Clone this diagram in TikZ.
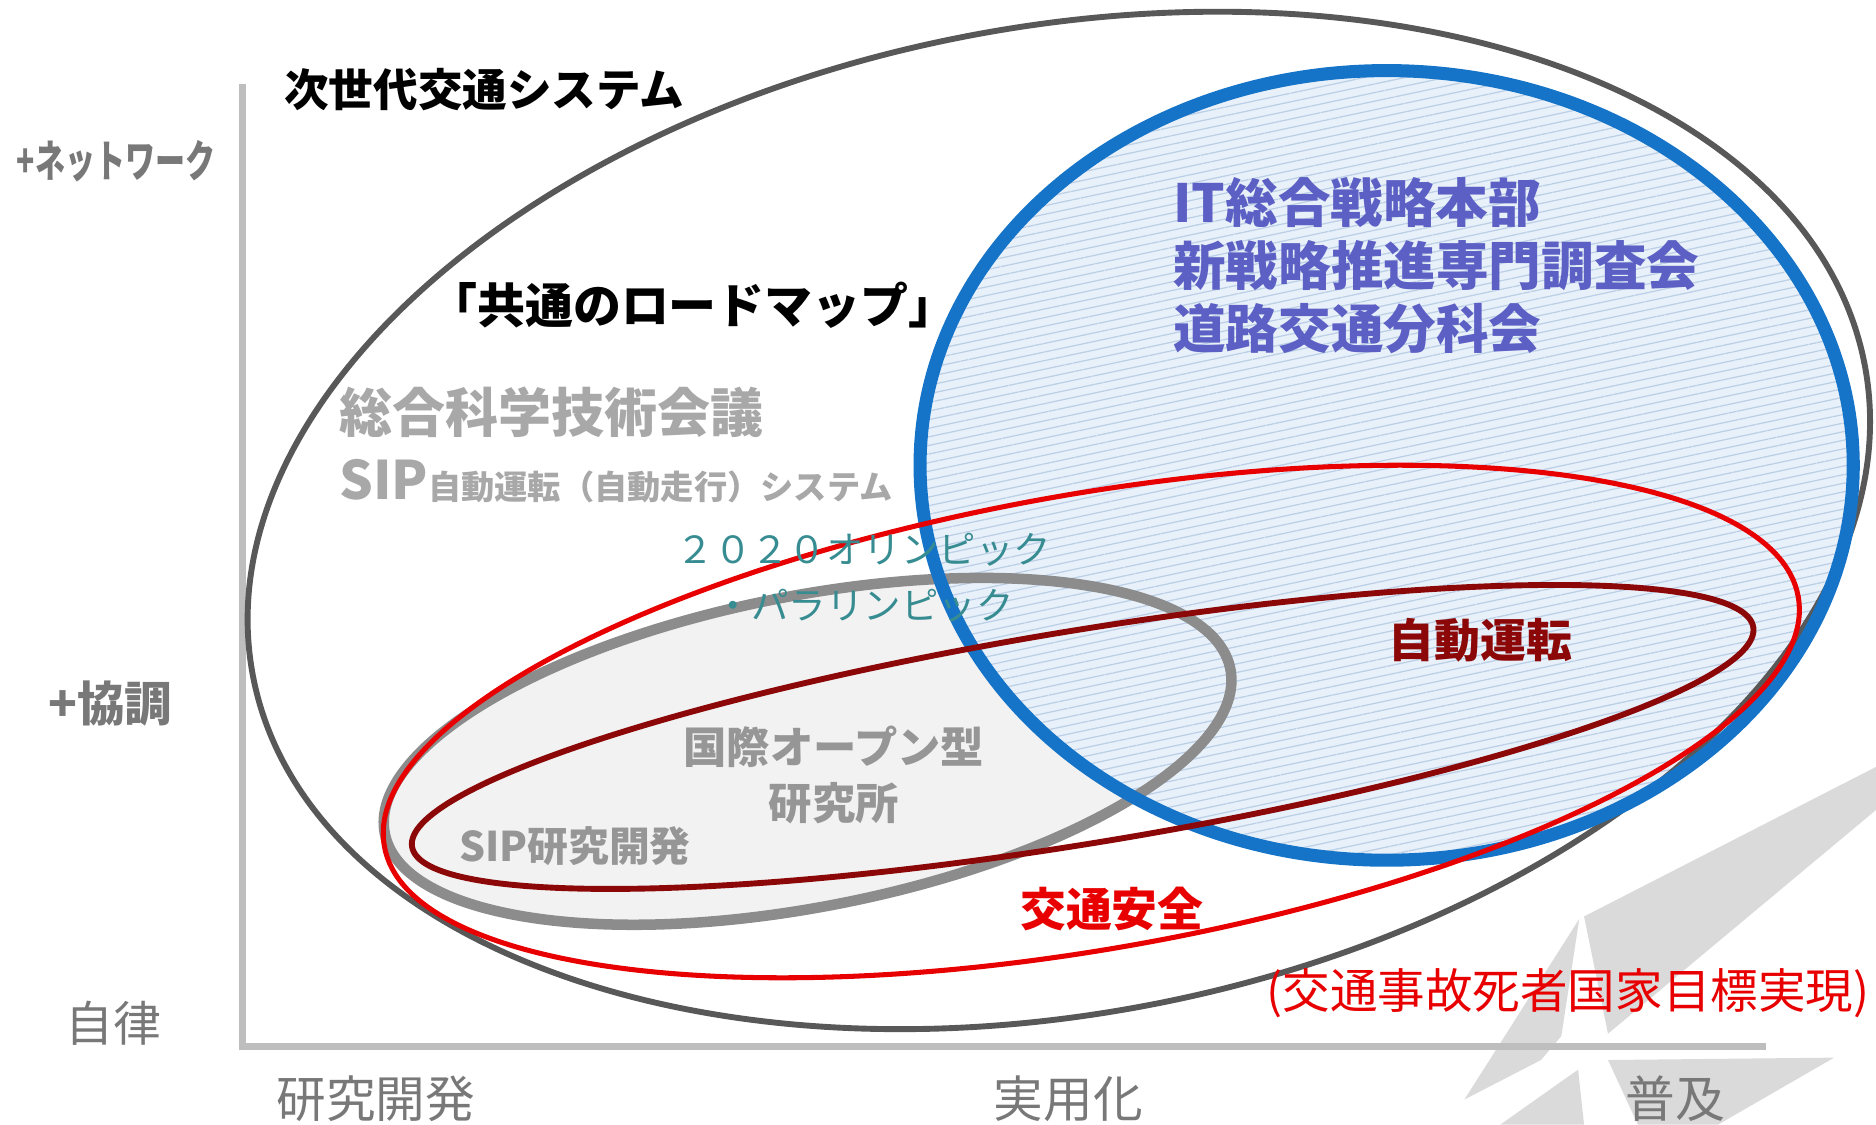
\documentclass[tikz,border=0pt]{standalone}
\usepackage{fontspec}
\setmainfont{Noto Sans CJK JP}
\usetikzlibrary{patterns.meta}
\definecolor{axisgray}{RGB}{190,190,190}
\definecolor{axistext}{RGB}{120,120,120}
\definecolor{outergray}{RGB}{88,88,88}
\definecolor{sipgray}{RGB}{140,140,140}
\definecolor{sipfill}{RGB}{242,242,242}
\definecolor{itblue}{RGB}{22,116,200}
\definecolor{bluefill}{RGB}{232,241,250}
\definecolor{bluehatch}{RGB}{188,207,230}
\definecolor{safered}{RGB}{232,0,0}
\definecolor{autored}{RGB}{140,8,8}
\definecolor{labgray}{RGB}{168,168,168}
\definecolor{midgray}{RGB}{150,150,150}
\definecolor{itpurple}{RGB}{92,96,196}
\definecolor{olyteal}{RGB}{55,140,146}
\definecolor{wmgray}{RGB}{218,218,218}
\newcommand{\fsz}[2]{\fontsize{#1pt}{#2pt}\selectfont}

\begin{document}
\begin{tikzpicture}[x=0.01cm,y=-0.01cm,
  lbl/.style={inner sep=0pt},
  axislbl/.style={lbl,text=axistext}]
\useasboundingbox (0,0) rectangle (1568,940);

% Centres of the rings
\coordinate (outerC) at (885,435);
\coordinate (blueC) at (1159,389);
\coordinate (sipC) at (675,628);
\coordinate (safeC) at (912,603);
\coordinate (autoC) at (905,616);

% Faint watermark
\fill[wmgray] (1324,766) -- (1568,641) -- (1568,677) -- (1344,864) -- cycle;
\fill[wmgray] (1320,768) -- (1224,919) -- (1288,886) -- (1305,866) -- cycle;
\fill[wmgray] (1344,886) -- (1533,884) -- (1436,940) -- (1369,940) -- cycle;
\fill[wmgray] (1319,894) -- (1254,940) -- (1324,940) -- cycle;

% Draw axes
\coordinate (ytop) at (203,70);
\coordinate (orig) at (203,875);
\coordinate (xend) at (1476,875);
\draw[axisgray, line width=1.7pt] (ytop) -- (orig) -- (xend);

% Ring fills
\fill[sipfill, rotate around={11:(sipC)}] (sipC) ellipse [x radius=360, y radius=130];
\fill[bluefill] (blueC) ellipse [x radius=390, y radius=330];
\fill[pattern={Lines[angle=12,distance=2pt,line width=0.3pt]}, pattern color=bluehatch]
  (blueC) ellipse [x radius=390, y radius=330];

% Ring outlines
\draw[outergray, line width=1.4pt, rotate around={11:(outerC)}] (outerC) ellipse [x radius=686, y radius=412];
\draw[sipgray, line width=2.5pt, rotate around={11:(sipC)}] (sipC) ellipse [x radius=360, y radius=130];
\draw[itblue, line width=3.1pt] (blueC) ellipse [x radius=390, y radius=330];
\draw[safered, line width=1.2pt, rotate around={10:(safeC)}] (safeC) ellipse [x radius=600, y radius=190];
\draw[autored, line width=1.4pt, rotate around={9.3:(autoC)}] (autoC) ellipse [x radius=568, y radius=89];

% Axis labels
\node[axislbl, font=\fsz{10.5}{12}\bfseries] (net) at (97,135) {\scalebox{0.68}[1]{+ネットワーク}};
\node[axislbl, font=\fsz{11.3}{13}\bfseries] (coop) at (92,588) {+協調};
\node[axislbl, font=\fsz{11.4}{13}] (auto) at (95,855) {自律};
\node[axislbl, font=\fsz{11.8}{13}] (rnd) at (314,918) {研究開発};
\node[axislbl, font=\fsz{11.8}{13}] (prac) at (893,918) {実用化};
\node[axislbl, font=\fsz{11.8}{13}] (spread) at (1400,918) {普及};

% Ring labels
\node[lbl, anchor=west, font=\fsz{10.6}{12}\bfseries] (nextgen) at (237,75) {次世代交通システム};
\node[lbl, anchor=west, font=\fsz{11.4}{13}\bfseries] (roadmap) at (358,255) {「共通のロードマップ」};
\node[lbl, anchor=west, text=labgray, font=\fsz{12.6}{14}\bfseries] (cstp) at (283,345) {総合科学技術会議};
\node[lbl, anchor=west, text=labgray, font=\fsz{12.6}{14}\bfseries] (sipad) at (283,402)
  {SIP\fsz{7.9}{9}自動運転（自動走行）システム};
\node[lbl, anchor=west, text=itpurple, align=left, font=\fsz{12.5}{15}\bfseries] (ithq) at (980,222)
  {IT総合戦略本部\\新戦略推進専門調査会\\道路交通分科会};
\node[lbl, text=olyteal, align=center, font=\fsz{8.9}{13.4}] (oly) at (722,483)
  {２０２０オリンピック\\・パラリンピック};
\node[lbl, text=midgray, align=center, font=\fsz{10.3}{13.4}\bfseries] (openlab) at (697,648)
  {国際オープン型\\研究所};
\node[lbl, anchor=west, text=midgray, font=\fsz{9.7}{11}\bfseries] (siprd) at (383,707) {SIP研究開発};
\node[lbl, anchor=west, text=autored, font=\fsz{10.9}{12}\bfseries] (autodrive) at (1160,535) {自動運転};
\node[lbl, anchor=west, text=safered, font=\fsz{10.9}{12}\bfseries] (safety) at (852,760) {交通安全};
\node[lbl, anchor=west, text=safered, font=\fsz{11.3}{13}] (target) at (1058,830) {(交通事故死者国家目標実現)};
\end{tikzpicture}
\end{document}
